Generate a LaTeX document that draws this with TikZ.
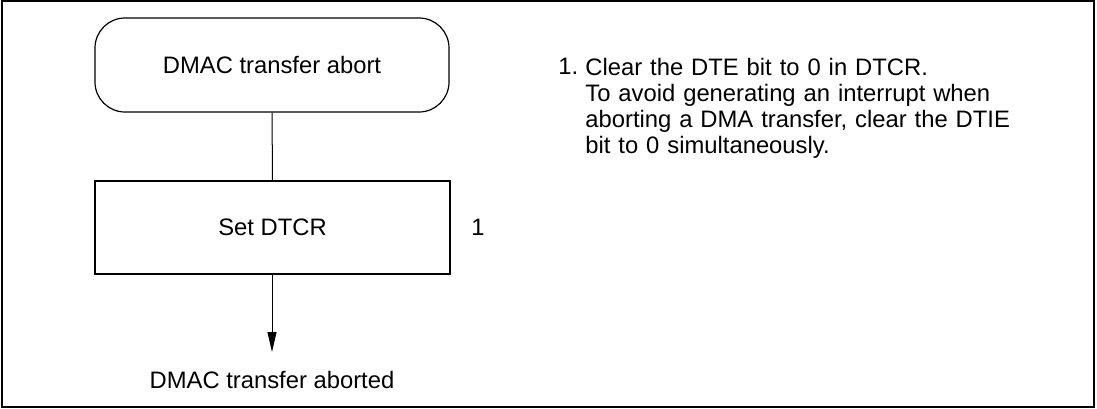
\documentclass[tikz,border=0pt]{standalone}
\usepackage{fontspec}
\setmainfont{Liberation Sans}
\usetikzlibrary{arrows.meta}
\begin{document}
\begin{tikzpicture}[x=0.5pt,y=-0.5pt,
  every node/.style={font=\fontsize{11.9pt}{13pt}\selectfont, inner sep=0pt},
  terminal/.style={draw, line width=0.6pt, rounded corners=15pt, minimum width=177pt, minimum height=47pt},
  process/.style={draw, line width=0.6pt, minimum width=177.5pt, minimum height=46.5pt},
  conn/.style={line width=0.5pt},
  arr/.style={conn, -{Triangle[length=10pt,width=4.5pt]}}]
\useasboundingbox (0,0) rectangle (1097,408);
\draw[line width=0.7pt] (2,1) rectangle (1094,407);
\node[terminal] (start) at (272,65) {DMAC transfer abort};
\node[process] (set) at (272.5,227.5) {Set DTCR};
\node (one) at (478,227) {1};
\coordinate (end) at (272,352);
\node (done) at (272,380) {DMAC transfer aborted};
\draw[conn] (start) -- (set);
\draw[arr] (set.south -| start.south) -- (end);
\node[anchor=north west] (n1) at (558,58) {1.};
\node[anchor=north west, align=left, text width=260pt, font=\fontsize{11.9pt}{13pt}\selectfont] (note) at (585,58)
  {Clear the DTE bit to 0 in DTCR.\\
   To avoid generating an interrupt when\\
   aborting a DMA transfer, clear the DTIE\\
   bit to 0 simultaneously.};
\end{tikzpicture}
\end{document}
